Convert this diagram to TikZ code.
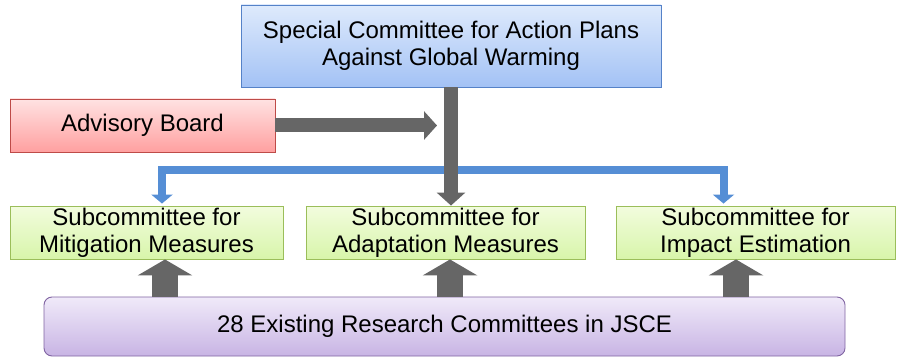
\documentclass[tikz,border=0pt]{standalone}
\usepackage{fontspec}
\setmainfont{Liberation Sans}
\usetikzlibrary{positioning,arrows.meta,calc}
\definecolor{headtop}{RGB}{222,234,252}
\definecolor{headbot}{RGB}{163,194,245}
\definecolor{headline}{RGB}{85,130,200}
\definecolor{boardtop}{RGB}{255,226,226}
\definecolor{boardbot}{RGB}{255,160,160}
\definecolor{boardline}{RGB}{190,75,72}
\definecolor{subtop}{RGB}{242,252,222}
\definecolor{subbot}{RGB}{216,245,170}
\definecolor{subline}{RGB}{155,190,90}
\definecolor{basetop}{RGB}{240,234,249}
\definecolor{basebot}{RGB}{200,180,228}
\definecolor{baseline}{RGB}{128,100,162}
\definecolor{flowgray}{RGB}{102,102,102}
\definecolor{flowblue}{RGB}{85,142,213}

\begin{document}
\begin{tikzpicture}[x=1pt, y=-1pt,
    box/.style={draw, line width=0.9pt, align=center, inner sep=0pt,
                font=\fontsize{24}{27}\selectfont},
    head/.style={box, draw=headline, top color=headtop, bottom color=headbot,
                 minimum width=420pt, minimum height=82pt},
    board/.style={box, draw=boardline, top color=boardtop, bottom color=boardbot,
                  minimum width=265pt, minimum height=53pt},
    sub/.style={box, draw=subline, top color=subtop, bottom color=subbot,
                minimum height=53pt},
    base/.style={box, draw=baseline, top color=basetop, bottom color=basebot,
                 rounded corners=8pt, minimum width=801pt, minimum height=59pt},
    grayarr/.style={-{Triangle[length=13pt,width=28pt]}, line width=14pt, flowgray},
    uparr/.style={-{Triangle[length=16pt,width=54pt]}, line width=26pt, flowgray},
    bluearr/.style={-{Triangle[length=9pt,width=21pt]}, line width=8pt, flowblue,
                    shorten >=2pt}
  ]
  \useasboundingbox (0,0) rectangle (901,358);

  % committees
  \node[head]  (top)  at (451, 46)     {Special Committee for Action Plans\\Against Global Warming};
  \node[board] (adv)  at (142.5, 125.5) {Advisory Board};
  \node[sub, minimum width=273pt] (sub1) at (146.5, 232.5) {Subcommittee for\\Mitigation Measures};
  \node[sub, minimum width=279pt] (sub2) at (445.5, 232.5) {Subcommittee for\\Adaptation Measures};
  \node[sub, minimum width=279pt] (sub3) at (755.5, 232.5) {Subcommittee for\\Impact Estimation};
  \node[base]  (jsce) at (444.5, 326.5) {28 Existing Research Committees in JSCE};

  % blue branches
  \coordinate (split) at ([yshift=-83pt]top.south);
  \draw[bluearr] (split) -| ([xshift=15.5pt]sub1.north);
  \draw[bluearr] (split) -| ([xshift=-32pt]sub3.north);

  % gray flows
  \draw[grayarr] (top.south) -- (top.south |- sub2.north);
  \draw[grayarr, shorten >=14pt] (adv.east) -- (adv.east -| top.south);

  % from the research committees
  \draw[uparr] ([xshift=18.5pt]sub1.south |- jsce.north) -- ([xshift=18.5pt]sub1.south);
  \draw[uparr] ([xshift=4.5pt]sub2.south |- jsce.north) -- ([xshift=4.5pt]sub2.south);
  \draw[uparr] ([xshift=-19.5pt]sub3.south |- jsce.north) -- ([xshift=-19.5pt]sub3.south);
\end{tikzpicture}
\end{document}
